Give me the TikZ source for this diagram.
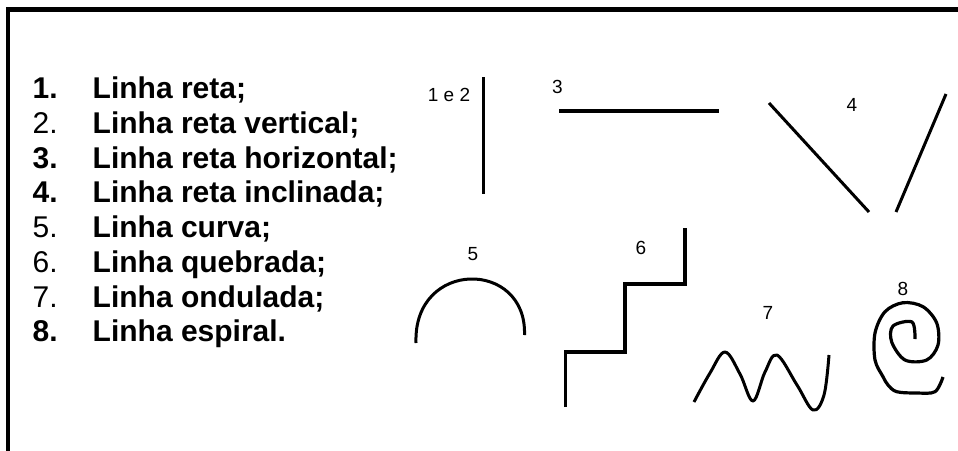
\documentclass[tikz,border=0pt]{standalone}
\usepackage{fontspec}
\setmainfont{Liberation Sans}
\begin{document}
\begin{tikzpicture}[x=1pt,y=-1pt,
  itemr/.style={anchor=base west, inner sep=0pt, font=\fontsize{30}{34}\selectfont},
  itemb/.style={anchor=base west, inner sep=0pt, font=\fontsize{30}{34}\selectfont\bfseries},
  lab/.style={inner sep=0pt, font=\fontsize{19}{22}\selectfont},
  stroke/.style={line width=3pt, line join=round},
  frame/.style={line width=4.5pt, line join=miter}]
\useasboundingbox (0,0) rectangle (958,450);
\fill[white] (0,0) rectangle (958,450);
% frame (top and left only)
\coordinate (fbl) at (8,452);
\coordinate (ftl) at (8,9.5);
\coordinate (ftr) at (960,9.5);
\draw[frame] (fbl) -- (ftl) -- (ftr);
% list
\node[itemb] (n1) at (32.5,98.5) {1.};
\node[itemr] (n2) at (32.5,133.25) {2.};
\node[itemb] (n3) at (32.5,168) {3.};
\node[itemb] (n4) at (32.5,202.75) {4.};
\node[itemr] (n5) at (32.5,237.5) {5.};
\node[itemr] (n6) at (32.5,272.25) {6.};
\node[itemr] (n7) at (32.5,307) {7.};
\node[itemb] (n8) at (32.5,341.75) {8.};
\node[itemb] (t1) at (92.5,98.5) {Linha reta;};
\node[itemb] (t2) at (92.5,133.25) {Linha reta vertical;};
\node[itemb] (t3) at (92.5,168) {Linha reta horizontal;};
\node[itemb] (t4) at (92.5,202.75) {Linha reta inclinada;};
\node[itemb] (t5) at (92.5,237.5) {Linha curva;};
\node[itemb] (t6) at (92.5,272.25) {Linha quebrada;};
\node[itemb] (t7) at (92.5,307) {Linha ondulada;};
\node[itemb] (t8) at (92.5,341.75) {Linha espiral.};
% labels
\node[lab] (l12) at (449,95) {1 e 2};
\node[lab] (l3) at (557.5,87) {3};
\node[lab] (l4) at (852,105) {4};
\node[lab] (l5) at (473,254) {5};
\node[lab] (l6) at (641,248) {6};
\node[lab] (l7) at (768,313) {7};
\node[lab] (l8) at (903,288.5) {8};
% 1 e 2: vertical line
\coordinate (v1) at (483,77);
\coordinate (v2) at (483,194);
\draw[stroke] (v1) -- (v2);
% 3: horizontal line
\coordinate (h1) at (559,111);
\coordinate (h2) at (719,111);
\draw[stroke, line width=3.5pt] (h1) -- (h2);
% 4: inclined lines
\coordinate (a1) at (769,103);
\coordinate (a2) at (869,212);
\coordinate (b1) at (946,94);
\coordinate (b2) at (896,212);
\draw[stroke] (a1) -- (a2);
\draw[stroke] (b1) -- (b2);
% 5: curve
\coordinate (c1) at (416,343);
\coordinate (c2) at (524.5,335);
\draw[stroke] (c1) .. controls (413,259) and (527,259) .. (c2);
% 6: broken line
\coordinate (s0) at (565.5,407);
\coordinate (s1) at (565.5,352);
\coordinate (s2) at (625,352);
\coordinate (s3) at (625,284);
\coordinate (s4) at (685,284);
\coordinate (s5) at (685,228);
\draw[stroke, line width=3.5pt, line join=miter] (s0) -- (s1) -- (s2) -- (s3) -- (s4) -- (s5);
% 7: wavy line
\draw[stroke] plot[smooth, tension=0.6] coordinates {(694,402) (710,373) (725,352) (740,374) (753,401) (765,372) (777,355) (797,385) (813,410) (824,395) (829,355)};
% 8: spiral
\draw[stroke, line width=3.2pt] plot[smooth, tension=0.55] coordinates {(915,339) (912,322) (893,326) (891.7,342) (905,360) (926.7,360) (938,345) (936.7,323) (923,306.7) (903,302.7) (885,311.7) (875,333) (875,360) (883,376.7) (888,385) (896.7,391.7) (916.7,393) (935,391.7) (943,377)};
\end{tikzpicture}
\end{document}
